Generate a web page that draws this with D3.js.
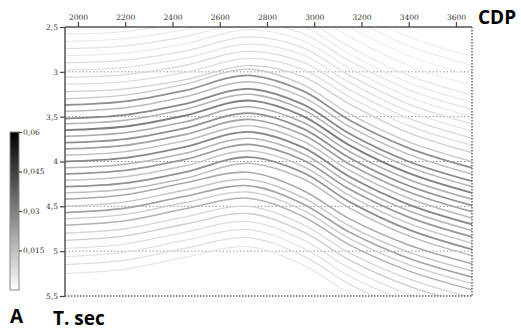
<!DOCTYPE html>
<html>
<head>
<meta charset="utf-8">
<script src="https://cdn.jsdelivr.net/npm/d3@7"></script>
<style>
  html, body { margin: 0; padding: 0; background: #fff; }
  svg text { fill: #333; }
  .tick-lbl { font-family: 'DejaVu Serif', serif; font-size: 7.5px; }
  .big { font-family: 'Open Sans', sans-serif; font-weight: bold; fill: #000; }
</style>
</head>
<body>
<div id="chart"></div>
<script>
const cdpStations = [1945, 2200, 2450, 2720, 2950, 3150, 3400, 3668];

// horizon times (s) at each station
const horizonTimes = [
  [2.15, 2.12, 2.02, 1.86, 1.98, 2.29, 2.61, 2.83],
  [2.25, 2.22, 2.12, 1.96, 2.08, 2.39, 2.71, 2.93],
  [2.36, 2.33, 2.23, 2.07, 2.19, 2.50, 2.82, 3.04],
  [2.47, 2.44, 2.34, 2.18, 2.30, 2.61, 2.93, 3.15],
  [2.58, 2.55, 2.45, 2.29, 2.41, 2.72, 3.04, 3.26],
  [2.66, 2.63, 2.53, 2.37, 2.49, 2.80, 3.12, 3.34],
  [2.74, 2.71, 2.61, 2.45, 2.57, 2.88, 3.20, 3.42],
  [2.82, 2.79, 2.69, 2.53, 2.65, 2.96, 3.28, 3.50],
  [2.90, 2.87, 2.77, 2.61, 2.73, 3.04, 3.36, 3.58],
  [2.98, 2.95, 2.85, 2.69, 2.81, 3.12, 3.44, 3.66],
  [3.06, 3.03, 2.93, 2.77, 2.89, 3.20, 3.52, 3.74],
  [3.14, 3.11, 3.01, 2.85, 2.97, 3.28, 3.60, 3.82],
  [3.22, 3.19, 3.09, 2.93, 3.05, 3.36, 3.68, 3.90],
  [3.30, 3.26, 3.14, 2.97, 3.14, 3.47, 3.78, 4.00],
  [3.37, 3.33, 3.21, 3.04, 3.21, 3.54, 3.85, 4.07],
  [3.44, 3.40, 3.28, 3.11, 3.28, 3.61, 3.92, 4.14],
  [3.52, 3.48, 3.36, 3.19, 3.36, 3.69, 4.00, 4.22],
  [3.58, 3.54, 3.42, 3.25, 3.42, 3.75, 4.06, 4.28],
  [3.65, 3.61, 3.49, 3.32, 3.49, 3.82, 4.13, 4.35],
  [3.72, 3.68, 3.56, 3.39, 3.56, 3.89, 4.20, 4.42],
  [3.79, 3.75, 3.63, 3.46, 3.63, 3.96, 4.27, 4.49],
  [3.86, 3.82, 3.70, 3.53, 3.70, 4.03, 4.34, 4.56],
  [3.93, 3.89, 3.77, 3.60, 3.77, 4.10, 4.41, 4.63],
  [4.00, 3.96, 3.84, 3.67, 3.84, 4.17, 4.48, 4.70],
  [4.07, 4.03, 3.91, 3.74, 3.91, 4.24, 4.55, 4.77],
  [4.14, 4.10, 3.98, 3.81, 3.98, 4.31, 4.62, 4.84],
  [4.21, 4.17, 4.05, 3.88, 4.05, 4.38, 4.69, 4.91],
  [4.28, 4.24, 4.12, 3.95, 4.12, 4.45, 4.76, 4.98],
  [4.35, 4.31, 4.19, 4.02, 4.19, 4.52, 4.83, 5.05],
  [4.42, 4.37, 4.24, 4.12, 4.32, 4.64, 4.93, 5.14],
  [4.50, 4.45, 4.32, 4.20, 4.40, 4.72, 5.01, 5.22],
  [4.57, 4.52, 4.39, 4.27, 4.47, 4.79, 5.08, 5.29],
  [4.64, 4.59, 4.46, 4.34, 4.54, 4.86, 5.15, 5.36],
  [4.71, 4.66, 4.53, 4.41, 4.61, 4.93, 5.22, 5.43],
  [4.80, 4.75, 4.62, 4.50, 4.70, 5.02, 5.31, 5.52],
  [4.88, 4.83, 4.70, 4.58, 4.78, 5.10, 5.39, 5.60],
  [4.97, 4.92, 4.79, 4.67, 4.87, 5.19, 5.48, 5.69],
  [5.06, 5.01, 4.88, 4.76, 4.96, 5.28, 5.57, 5.78],
  [5.15, 5.10, 4.97, 4.85, 5.05, 5.37, 5.66, 5.87],
  [5.25, 5.20, 5.07, 4.95, 5.15, 5.47, 5.76, 5.97]
];

// value of each horizon in colour bar units
const horizonValues = [
  0.004, 0.005, 0.004, 0.005, 0.006, 0.005, 0.007, 0.006, 0.008, 0.007,
  0.009, 0.008, 0.011, 0.013, 0.026, 0.016, 0.028, 0.018, 0.030, 0.020,
  0.026, 0.022, 0.016, 0.028, 0.018, 0.024, 0.014, 0.026, 0.016, 0.020,
  0.014, 0.022, 0.012, 0.018, 0.010, 0.012, 0.008, 0.007, 0.008, 0.006
];

const cdpTicks = [2000, 2200, 2400, 2600, 2800, 3000, 3200, 3400, 3600];
const timeTicks = [2.5, 3, 3.5, 4, 4.5, 5, 5.5];
const gridTimes = [3, 3.5, 4, 4.5, 5];
const colorTicks = [0.015, 0.03, 0.045, 0.06];
const colorDomain = [0, 0.06];

const comma = d => String(d).replace('.', ',');

const W = 521, H = 330;
const plot = { left: 65, right: 472, top: 27, bottom: 296 };

const svg = d3.select('#chart').append('svg')
  .attr('width', W)
  .attr('height', H);

const x = d3.scaleLinear().domain([1945, 3668]).range([plot.left, plot.right]);
const y = d3.scaleLinear().domain([2.5, 5.5]).range([plot.top, plot.bottom]);
const shade = d3.scaleLinear().domain(colorDomain).range(['#ffffff', '#000000']);

svg.append('clipPath').attr('id', 'clip')
  .append('rect')
  .attr('x', plot.left).attr('y', plot.top)
  .attr('width', plot.right - plot.left)
  .attr('height', plot.bottom - plot.top);

// dotted time gridlines
svg.append('g').selectAll('line')
  .data(gridTimes)
  .enter().append('line')
  .attr('x1', plot.left).attr('x2', plot.right)
  .attr('y1', d => y(d)).attr('y2', d => y(d))
  .style('stroke', '#999')
  .style('stroke-width', 1)
  .style('stroke-dasharray', '1.5,2');

// horizons
const line = d3.line()
  .x((d, i) => x(cdpStations[i]))
  .y(d => y(d))
  .curve(d3.curveCatmullRom.alpha(0.5));

svg.append('g')
  .attr('clip-path', 'url(#clip)')
  .selectAll('path')
  .data(horizonTimes)
  .enter().append('path')
  .attr('d', line)
  .style('fill', 'none')
  .style('stroke', (d, i) => shade(horizonValues[i]))
  .style('stroke-width', (d, i) => 1 + horizonValues[i] * 30);

// frame: solid top/left, dotted right/bottom
svg.append('line')
  .attr('x1', plot.left).attr('x2', plot.right)
  .attr('y1', plot.top).attr('y2', plot.top)
  .style('stroke', '#555').style('stroke-width', 1.5);
svg.append('line')
  .attr('x1', plot.left).attr('x2', plot.left)
  .attr('y1', plot.top).attr('y2', plot.bottom)
  .style('stroke', '#555').style('stroke-width', 1.5);
svg.append('line')
  .attr('x1', plot.right).attr('x2', plot.right)
  .attr('y1', plot.top).attr('y2', plot.bottom)
  .style('stroke', '#666').style('stroke-width', 1.5)
  .style('stroke-dasharray', '1.5,1.5');
svg.append('line')
  .attr('x1', plot.left).attr('x2', plot.right)
  .attr('y1', plot.bottom).attr('y2', plot.bottom)
  .style('stroke', '#666').style('stroke-width', 1.5)
  .style('stroke-dasharray', '1.5,1.5');

// CDP axis on top
const xAxis = svg.append('g')
  .attr('transform', 'translate(0,' + plot.top + ')')
  .call(d3.axisTop(x).tickValues(cdpTicks).tickSize(5).tickPadding(2).tickFormat(d3.format('d')));
xAxis.select('.domain').remove();

// time axis on the left
const yAxis = svg.append('g')
  .attr('transform', 'translate(' + plot.left + ',0)')
  .call(d3.axisLeft(y).tickValues(timeTicks).tickSize(5).tickPadding(2).tickFormat(comma));
yAxis.select('.domain').remove();

// colour bar
const cb = { x: 10, w: 9, top: 132, bottom: 290 };
const cbY = d3.scaleLinear().domain(colorDomain).range([cb.bottom, cb.top]);
const grad = svg.append('defs').append('linearGradient')
  .attr('id', 'cbgrad')
  .attr('x1', 0).attr('y1', 1).attr('x2', 0).attr('y2', 0);
grad.selectAll('stop')
  .data([0, 0.25, 0.5, 0.75, 1])
  .enter().append('stop')
  .attr('offset', d => d)
  .attr('stop-color', d => shade(colorDomain[0] + d * (colorDomain[1] - colorDomain[0])));
svg.append('rect')
  .attr('x', cb.x).attr('y', cb.top)
  .attr('width', cb.w).attr('height', cb.bottom - cb.top)
  .style('fill', 'url(#cbgrad)')
  .style('stroke', '#888').style('stroke-width', 1);
const cbAxis = svg.append('g')
  .attr('transform', 'translate(' + (cb.x + cb.w) + ',0)')
  .call(d3.axisRight(cbY).tickValues(colorTicks).tickSize(3).tickPadding(1).tickFormat(comma));
cbAxis.select('.domain').remove();

[xAxis, yAxis, cbAxis].forEach(g => {
  g.selectAll('.tick line').style('stroke', '#444').style('stroke-width', 1.2);
  g.selectAll('.tick text').attr('class', 'tick-lbl').style('fill', '#333');
});

// titles
svg.append('text').attr('class', 'big')
  .attr('x', 478).attr('y', 24).style('font-size', '19px').text('CDP');
svg.append('text').attr('class', 'big')
  .attr('x', 10).attr('y', 323).style('font-size', '19px').text('A');
svg.append('text').attr('class', 'big')
  .attr('x', 53).attr('y', 325).style('font-size', '19px').text('T. sec');
</script>
</body>
</html>
